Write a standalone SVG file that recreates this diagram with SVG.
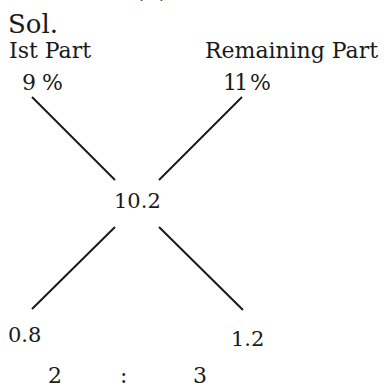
<svg xmlns="http://www.w3.org/2000/svg" width="384" height="386" viewBox="0 0 384 386">
<style>
text{font-family:"DejaVu Serif","Liberation Serif",serif;fill:#1a1a1a}
.big{font-size:26px}
.lbl{font-size:22px}
.num{font-size:21px}
.conn line{stroke:#1a1a1a;stroke-width:2;stroke-linecap:butt}
</style>
<rect width="384" height="386" fill="#fff"/>
<text class="big" x="134" y="-3">(c)</text>
<g id="sol"><text class="big" x="8" y="33">Sol.</text></g>
<g id="first"><text class="lbl" x="9" y="58" textLength="82">Ist Part</text><text class="lbl" x="22" y="90" textLength="41">9 %</text></g>
<g id="remaining"><text class="lbl" x="205" y="58" textLength="173">Remaining Part</text><text class="lbl" x="223" y="90" textLength="48">11 %</text></g>
<g id="mean"><text class="num" x="114" y="208">10.2</text></g>
<g id="d1"><text class="num" x="8" y="342">0.8</text></g>
<g id="d2"><text class="num" x="231" y="346">1.2</text></g>
<g id="ratio"><text class="lbl" x="48" y="383">2</text><text class="lbl" x="120" y="383">:</text><text class="lbl" x="193" y="383">3</text></g>
<g class="conn">
<line x1="32" y1="97" x2="115" y2="180"/>
<line x1="242" y1="97" x2="159" y2="180"/>
<line x1="115" y1="227" x2="32" y2="309"/>
<line x1="159" y1="227" x2="243" y2="310"/>
</g>
</svg>
